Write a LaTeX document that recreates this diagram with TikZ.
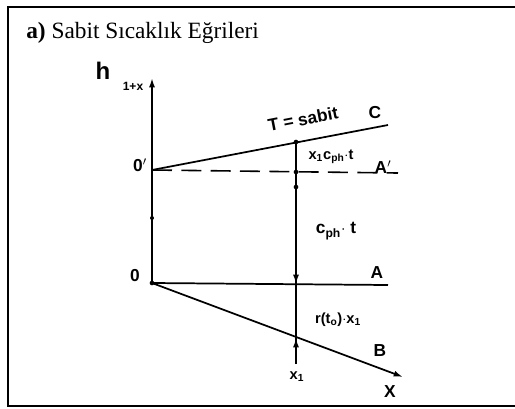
\documentclass[tikz,border=0pt]{standalone}
\usepackage{fontspec}
\setmainfont{Liberation Serif}
\setsansfont{Liberation Sans}
\usetikzlibrary{arrows.meta}
\begin{document}
\begin{tikzpicture}[x=0.75pt,y=-0.75pt,
  frame/.style={line width=1.6pt},
  axisline/.style={line width=1.3pt},
  curve/.style={line width=1.3pt},
  dashline/.style={line width=1.2pt, dash pattern=on 15pt off 7pt},
  hand/.style={font=\sffamily\bfseries\fontsize{13}{15}\selectfont, inner sep=1pt},
  handsmall/.style={font=\sffamily\bfseries\fontsize{11}{13}\selectfont, inner sep=1pt},
  tip/.style={-{Latex[length=7pt,width=4.5pt]}},
  dot/.style={circle, fill, inner sep=0pt, minimum size=3.5pt}]
\useasboundingbox (0,0) rectangle (515,408);
% frame
\draw[frame] (516,7) -- (8,7) -- (8,406) -- (516,406);
% title
\node[anchor=west, font=\fontsize{17.5}{20}\selectfont, inner sep=0pt] (title) at (26,33) {\textbf{a)} Sabit Sıcaklık Eğrileri};
% coordinates
\coordinate (O) at (152,283);
\coordinate (Op) at (152,170);
\coordinate (top) at (152,78);
\coordinate (Cend) at (388,125);
\coordinate (Apend) at (398,173);
\coordinate (Aend) at (388,285);
\coordinate (Bend) at (403,377);
\coordinate (V1) at (296,142);
\coordinate (V2) at (296,172);
\coordinate (V3) at (296,284);
\coordinate (V4) at (296,338);
\coordinate (V5) at (296,364);
% axis
\draw[axisline, tip] (O) -- (top);
% lines
\draw[curve] (Op) -- (Cend);
\draw[dashline] (Op) -- (Apend);
\draw[curve] (O) -- (Aend);
\draw[curve, tip] (O) -- (Bend);
% vertical
\draw[axisline] (V1) -- (V5);
\draw[axisline, tip] (296,255) -- (V3);
\draw[axisline, tip] (V5) -- (V4);
\node[dot] (d1) at (V1) {};
\node[dot] (d2) at (V2) {};
\node[dot] (d3) at (296,187) {};
\node[dot, minimum size=3pt] (d4) at (152,218) {};
\node[dot] (d5) at (O) {};
% labels
\node[font=\sffamily\bfseries\fontsize{18}{20}\selectfont, inner sep=0pt] (hl) at (103,71) {h};
\node[font=\sffamily\bfseries\fontsize{9}{10}\selectfont, inner sep=0pt] (hs) at (133,86) {1+x};
\node[hand] (lOp) at (140,165) {0$'$};
\node[hand] (lO) at (135,276) {0};
\node[hand, rotate=11] (lT) at (303,119) {T = sabit};
\node[hand] (lC) at (375,113) {C};
\node[handsmall] (lx1c) at (331,157) {x\textsubscript{1}c\textsubscript{ph}$\cdot$t};
\node[hand] (lAp) at (383,167) {A$'$};
\node[hand] (lcph) at (336,231) {c\textsubscript{ph}$\cdot$ t};
\node[hand] (lA) at (377,273) {A};
\node[handsmall] (lr) at (338,320) {r(t\textsubscript{o})$\cdot$x\textsubscript{1}};
\node[hand] (lB) at (380,351) {B};
\node[handsmall] (lx1) at (297,377) {x\textsubscript{1}};
\node[hand] (lX) at (390,392) {X};
\end{tikzpicture}
\end{document}
